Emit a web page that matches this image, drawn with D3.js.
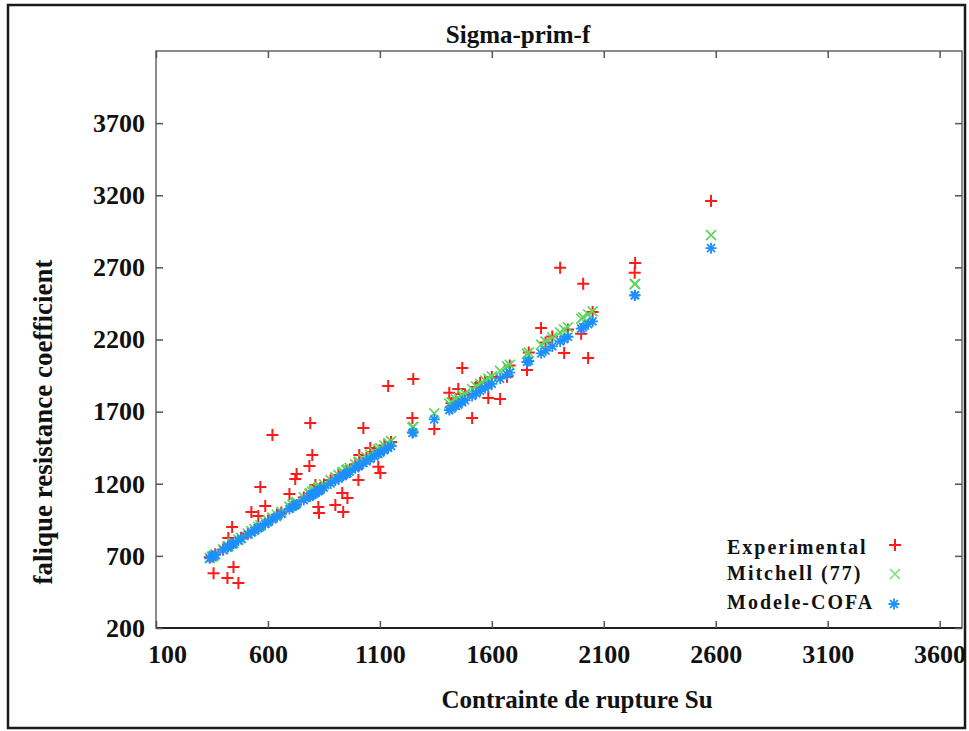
<!DOCTYPE html>
<html><head><meta charset="utf-8">
<script src="https://cdn.jsdelivr.net/npm/d3@7"></script>
<style>body{margin:0;background:#fff}svg{display:block}text{font-family:"Liberation Serif","Times New Roman",serif;font-weight:bold;fill:#111}</style>
</head><body>
<svg id="c" width="969" height="731"></svg>
<script>
const title = "Sigma-prim-f";
const xTitle = "Contrainte de rupture Su";
const yTitle = "falique resistance coefficient";
const xTicks = [100, 600, 1100, 1600, 2100, 2600, 3100, 3600];
const yTicks = [200, 700, 1200, 1700, 2200, 2700, 3200, 3700];
const seriesNames = ["Experimental", "Mitchell (77)", "Modele-COFA"];

const su = [340,350,357,365,400,419,423,446,440,468,480,510,526,540,557,566,588,600,620,640,660,696,710,722,728,760,785,789,798,805,812,825,828,834,850,880,901,915,932,936,950,955,965,990,1004,1008,1026,1040,1057,1075,1093,1102,1120,1137,1150,1245,1249,1343,1410,1420,1440,1450,1468,1480,1512,1530,1548,1570,1584,1600,1637,1668,1680,1757,1765,1820,1840,1870,1905,1923,1940,1999,2008,2030,2050,2240,2238,2579];
const experimental = [690,700,580,712,745,547,824,623,900,512,825,855,1004,880,977,1178,1046,945,1538,985,1000,1129,1055,1233,1268,1105,1323,1622,1400,1150,1192,1039,998,1171,1195,1225,1053,1260,1136,1004,1290,1102,1296,1335,1226,1400,1587,1380,1448,1420,1317,1275,1465,1878,1490,1656,1927,1580,1830,1760,1785,1857,2003,1820,1656,1870,1899,1905,1795,1940,1788,1941,2020,1989,2110,2280,2180,2220,2697,2107,2270,2239,2586,2072,2390,2731,2662,3161];
const mitchell = [685,695,702,710,745,764,768,791,785,813,825,855,871,885,902,911,933,945,965,985,1005,1041,1055,1067,1073,1105,1130,1134,1143,1150,1157,1170,1173,1179,1195,1225,1246,1260,1277,1281,1295,1300,1310,1335,1349,1353,1371,1385,1402,1420,1438,1447,1465,1482,1495,1590,1594,1688,1755,1765,1785,1795,1813,1825,1857,1875,1893,1915,1929,1945,1982,2013,2025,2102,2110,2165,2185,2215,2250,2268,2285,2344,2353,2375,2395,2585,2583,2924];
const cofa = [683,693,700,707,741,759,763,785,779,806,818,847,862,875,892,900,921,933,952,971,991,1025,1039,1050,1056,1087,1111,1114,1123,1130,1137,1149,1152,1158,1173,1202,1222,1235,1252,1256,1269,1274,1283,1307,1321,1325,1342,1355,1372,1389,1406,1415,1432,1449,1461,1552,1556,1646,1711,1720,1739,1749,1766,1778,1809,1826,1843,1864,1878,1893,1929,1958,1970,2044,2051,2104,2123,2152,2186,2203,2219,2276,2285,2306,2325,2507,2505,2833];

const svg = d3.select("#c");
const L = 156, R = 962, T = 51, B = 628;
const x = d3.scaleLinear().domain([100, 3700]).range([L, R]);
const y = d3.scaleLinear().domain([200, 4200]).range([B, T]);

// outer frame
svg.append("rect").attr("x", 8).attr("y", 5).attr("width", 957).attr("height", 723)
  .attr("fill", "none").attr("stroke", "#1a1a1a").attr("stroke-width", 2.5);

// plot border
svg.append("rect").attr("x", L).attr("y", T).attr("width", R - L).attr("height", B - T)
  .attr("fill", "none").attr("stroke", "#666").attr("stroke-width", 1.5);
svg.append("line").attr("x1", L).attr("x2", R).attr("y1", B).attr("y2", B)
  .attr("stroke", "#222").attr("stroke-width", 2);

// axes with inward ticks
const gx = svg.append("g").attr("transform", `translate(0,${B})`)
  .call(d3.axisBottom(x).tickValues(xTicks).tickSize(-7).tickPadding(17).tickFormat(d3.format("d")));
const gy = svg.append("g").attr("transform", `translate(${L},0)`)
  .call(d3.axisLeft(y).tickValues(yTicks).tickSize(-7).tickPadding(11).tickFormat(d3.format("d")));
const gx2 = svg.append("g").attr("transform", `translate(0,${T})`)
  .call(d3.axisTop(x).tickValues(xTicks).tickSize(-7).tickFormat(""));
const gy2 = svg.append("g").attr("transform", `translate(${R},0)`)
  .call(d3.axisRight(y).tickValues(yTicks).tickSize(-7).tickFormat(""));
[gx, gy, gx2, gy2].forEach(g => {
  g.select(".domain").remove();
  g.selectAll(".tick line").attr("stroke", "#555").attr("stroke-width", 1.5);
  g.selectAll("text").style("font-size", "26px").style("font-family", '"Liberation Serif",serif')
    .style("font-weight", "bold").attr("fill", "#111");
});
gx.selectAll(".tick text").attr("dy", "0.71em").attr("dx", (d, i) => i === 0 ? 11 : 0);

// titles
svg.append("text").attr("x", 518).attr("y", 43).attr("text-anchor", "middle")
  .style("font-size", "25px").text(title);
svg.append("text").attr("x", 577).attr("y", 708).attr("text-anchor", "middle")
  .style("font-size", "25px").text(xTitle);
svg.append("text").attr("transform", "translate(52,422) rotate(-90)").attr("text-anchor", "middle")
  .style("font-size", "27px").text(yTitle);

// markers
const red = "#ff1a1a", green = "#5cd65c", blue = "#1e8fff";
function plus(g, cx, cy, s, c) {
  g.append("path").attr("d", `M${cx - s},${cy}H${cx + s}M${cx},${cy - s}V${cy + s}`)
    .attr("stroke", c).attr("stroke-width", 2).attr("fill", "none");
}
function cross(g, cx, cy, s, c) {
  g.append("path").attr("d", `M${cx - s},${cy - s}L${cx + s},${cy + s}M${cx - s},${cy + s}L${cx + s},${cy - s}`)
    .attr("stroke", c).attr("stroke-width", 1.7).attr("fill", "none");
}
function star(g, cx, cy, s, c) {
  const d = s * 0.72;
  g.append("path").attr("d", `M${cx - s},${cy}H${cx + s}M${cx},${cy - s}V${cy + s}M${cx - d},${cy - d}L${cx + d},${cy + d}M${cx - d},${cy + d}L${cx + d},${cy - d}`)
    .attr("stroke", c).attr("stroke-width", 1.8).attr("fill", "none");
}
const gE = svg.append("g"), gM = svg.append("g"), gC = svg.append("g");
su.forEach((s, i) => plus(gE, x(s), y(experimental[i]), 6, red));
su.forEach((s, i) => cross(gM, x(s), y(mitchell[i]), 5, green));
su.forEach((s, i) => star(gC, x(s), y(cofa[i]), 5.5, blue));

// legend
const lg = svg.append("g");
const rows = [554, 580, 609];
seriesNames.forEach((n, i) => {
  lg.append("text").attr("x", 727).attr("y", rows[i]).style("font-size", "20px")
    .style("letter-spacing", "2px").text(n);
});
plus(lg, 895, 545, 6, red);
cross(lg, 895, 574, 5, "#7fe07f");
star(lg, 894, 604, 5.5, blue);
</script>
</body></html>
